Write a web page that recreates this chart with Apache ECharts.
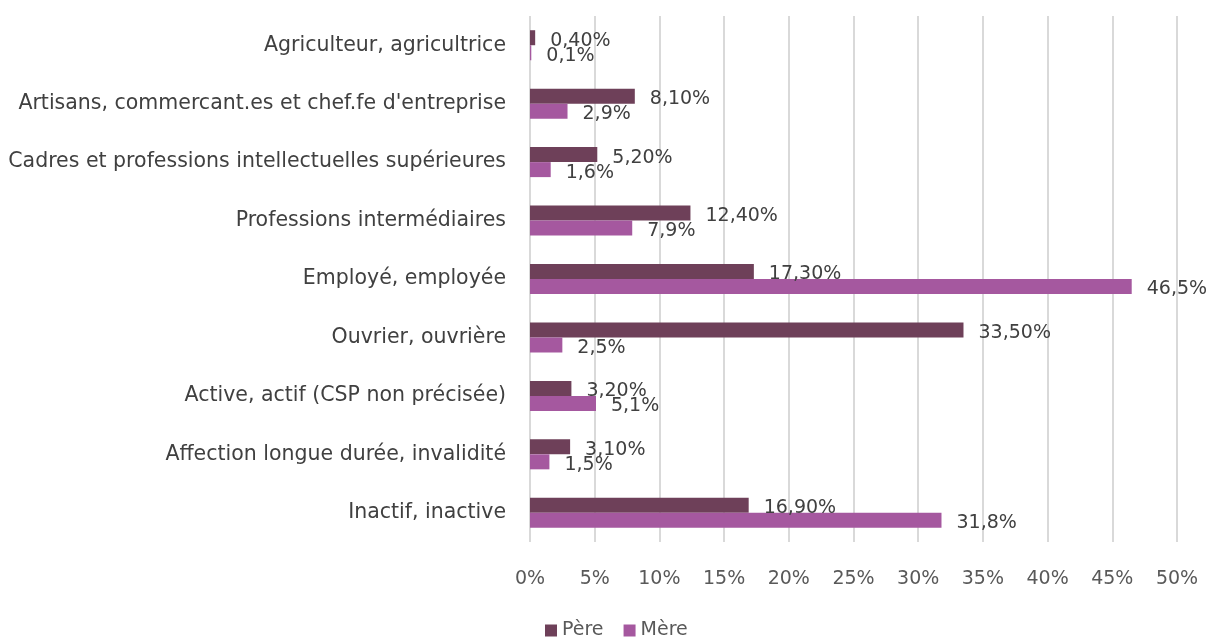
<!DOCTYPE html>
<html><head><meta charset="utf-8">
<script src="https://cdn.jsdelivr.net/npm/echarts@6/dist/echarts.min.js"></script>
<style>html,body{margin:0;padding:0;background:#fff}#c{width:1212px;height:637px}</style>
</head><body><div id="c"></div>
<script>
const categories = ["Agriculteur, agricultrice","Artisans, commercant.es et chef.fe d'entreprise","Cadres et professions intellectuelles supérieures","Professions intermédiaires","Employé, employée","Ouvrier, ouvrière","Active, actif (CSP non précisée)","Affection longue durée, invalidité","Inactif, inactive"];
const pere = [0.4, 8.1, 5.2, 12.4, 17.3, 33.5, 3.2, 3.1, 16.9];
const mere = [0.1, 2.9, 1.6, 7.9, 46.5, 2.5, 5.1, 1.5, 31.8];
const seriesNames = ["Père","Mère"];
const FONT = "DejaVu Sans";
const FS = 19;
const chart = echarts.init(document.getElementById('c'));
const lbl = (dec) => ({show:true, position:'right', distance:15, offset:[0,3], color:'#404040', fontSize:FS, fontFamily:FONT,
  formatter: p => p.value.toFixed(dec).replace('.', ',') + '%'});
chart.setOption({
  animation:false,
  textStyle:{fontFamily:FONT},
  grid:{left:530, right:35, top:16, bottom:95, containLabel:false},
  legend:{top:616, left:540, itemWidth:12, itemHeight:12, itemGap:20,
    textStyle:{fontSize:FS, color:'#595959', fontFamily:FONT}, icon:'rect', data:seriesNames},
  xAxis:{type:'value', min:0, max:50, interval:5,
    axisLabel:{formatter:'{value}%', fontSize:FS, color:'#595959', margin:28, fontFamily:FONT},
    splitLine:{lineStyle:{color:'#d9d9d9', width:2}}, axisLine:{show:false}, axisTick:{show:false}},
  yAxis:{type:'category', inverse:true, data:categories,
    axisLabel:{fontSize:20.5, color:'#404040', margin:24, fontFamily:FONT},
    axisLine:{show:false}, axisTick:{show:false}},
  series:[
    {name:seriesNames[0], type:'bar', data:pere, barWidth:15, barGap:'0%', itemStyle:{color:'#6e4059'}, label:lbl(2)},
    {name:seriesNames[1], type:'bar', data:mere, barWidth:15, barGap:'0%', itemStyle:{color:'#a5589f'}, label:lbl(1)}
  ]
});
</script></body></html>
